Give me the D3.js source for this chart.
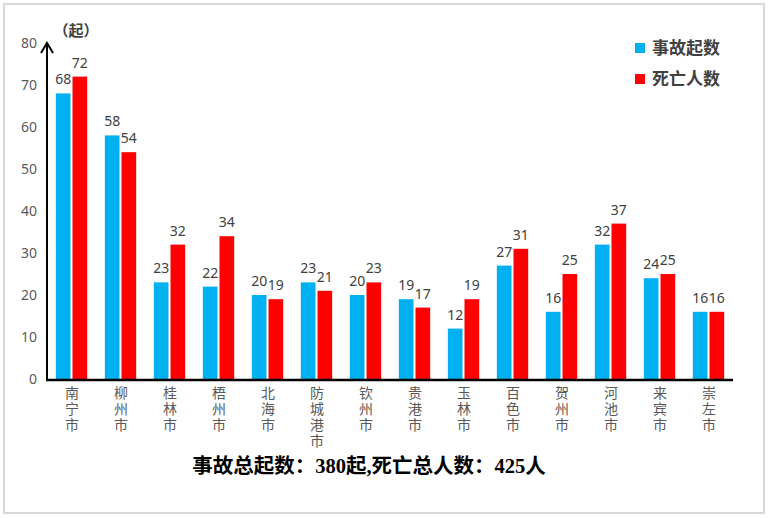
<!DOCTYPE html>
<html>
<head>
<meta charset="utf-8">
<title>chart</title>
<script src="https://d3js.org/d3.v7.min.js"></script>
<style>
  body { margin: 0; background: #fff; }
  text { font-family: "Noto Sans", "Noto Sans CJK SC", sans-serif; }
</style>
</head>
<body>
<script>
// data
var cities = ["南宁市", "柳州市", "桂林市", "梧州市", "北海市", "防城港市", "钦州市",
              "贵港市", "玉林市", "百色市", "贺州市", "河池市", "来宾市", "崇左市"];
var accidents = [68, 58, 23, 22, 20, 23, 20, 19, 12, 27, 16, 32, 24, 16];
var deaths = [72, 54, 32, 34, 19, 21, 23, 17, 19, 31, 25, 37, 25, 16];
var yTicks = [0, 10, 20, 30, 40, 50, 60, 70, 80];
var seriesNames = ["事故起数", "死亡人数"];
var colors = ["#00B0F0", "#FF0000"];

var w = 770, h = 518;
var pLeft = 47, pRight = 733, pTop = 43, pBottom = 379;

var svg = d3.select("body").append("svg")
    .attr("width", w)
    .attr("height", h);

// outer frame
svg.append("rect")
    .attr("x", 4).attr("y", 4)
    .attr("width", 760).attr("height", 509)
    .attr("fill", "#fff")
    .attr("stroke", "#d9d9d9")
    .attr("stroke-width", 2);

var x = d3.scaleBand().domain(cities).range([pLeft, pRight]).paddingInner(0.36).paddingOuter(0.18);
var x1 = d3.scaleBand().domain([0, 1]).range([0, x.bandwidth()]).paddingInner(0.12);
var y = d3.scaleLinear().domain([0, 80]).range([pBottom, pTop]);

// y tick labels
svg.append("g").selectAll("text")
    .data(yTicks).enter().append("text")
    .attr("x", 37)
    .attr("y", function(d) { return y(d); })
    .attr("dy", "0.35em")
    .attr("text-anchor", "end")
    .attr("font-size", 14)
    .attr("fill", "#595959")
    .text(function(d) { return d; });

// unit label
svg.append("text")
    .attr("x", 76).attr("y", 36)
    .attr("text-anchor", "middle")
    .attr("font-size", 15)
    .attr("font-weight", "bold")
    .attr("fill", "#404040")
    .attr("font-family", "Noto Sans CJK SC")
    .text("（起）");

// bars
var groups = svg.append("g").selectAll("g")
    .data(cities).enter().append("g")
    .attr("transform", function(d) { return "translate(" + x(d) + ",0)"; });

[accidents, deaths].forEach(function(vals, s) {
    groups.append("rect")
        .attr("x", x1(s))
        .attr("width", x1.bandwidth())
        .attr("y", function(d, i) { return y(vals[i]); })
        .attr("height", function(d, i) { return pBottom - y(vals[i]); })
        .attr("fill", colors[s]);
    groups.append("text")
        .attr("x", x1(s) + x1.bandwidth() / 2)
        .attr("y", function(d, i) { return y(vals[i]) - 9; })
        .attr("text-anchor", "middle")
        .attr("font-size", 14)
        .attr("fill", "#404040")
        .text(function(d, i) { return vals[i]; });
});

// category labels, written top to bottom
groups.append("text")
    .attr("x", function() { return x.bandwidth() / 2; })
    .attr("y", 386)
    .style("writing-mode", "vertical-rl")
    .style("text-orientation", "upright")
    .attr("letter-spacing", 2)
    .attr("font-size", 14)
    .attr("fill", "#595959")
    .attr("font-family", "Noto Sans CJK SC")
    .text(function(d) { return d; });

// axes
svg.append("line")
    .attr("x1", pLeft - 1).attr("x2", pRight)
    .attr("y1", pBottom + 1).attr("y2", pBottom + 1)
    .attr("stroke", "#000").attr("stroke-width", 2.5);
svg.append("line")
    .attr("x1", pLeft).attr("x2", pLeft)
    .attr("y1", pBottom + 2).attr("y2", 43)
    .attr("stroke", "#000").attr("stroke-width", 2);
svg.append("path")
    .attr("d", "M" + (pLeft - 6) + ",53 L" + pLeft + ",43 L" + (pLeft + 6) + ",53")
    .attr("fill", "none")
    .attr("stroke", "#000").attr("stroke-width", 2);

// legend
var leg = svg.append("g").selectAll("g")
    .data(seriesNames).enter().append("g")
    .attr("transform", function(d, i) { return "translate(635," + (48 + i * 31) + ")"; });
leg.append("rect")
    .attr("x", 0).attr("y", -5)
    .attr("width", 10).attr("height", 10)
    .attr("fill", function(d, i) { return colors[i]; });
leg.append("text")
    .attr("x", 17).attr("y", 0)
    .attr("dy", "0.35em")
    .attr("font-size", 17)
    .attr("font-weight", "bold")
    .attr("fill", "#404040")
    .attr("font-family", "Noto Sans CJK SC")
    .text(function(d) { return d; });

// summary line
svg.append("text")
    .attr("x", 369).attr("y", 466)
    .attr("dy", "0.35em")
    .attr("text-anchor", "middle")
    .attr("font-size", 20.5)
    .attr("font-weight", "bold")
    .attr("fill", "#000")
    .style("font-family", "'Liberation Serif', 'Noto Sans CJK SC', serif")
    .text("事故总起数：" + d3.sum(accidents) + "起,死亡总人数：" + d3.sum(deaths) + "人");
</script>
</body>
</html>
